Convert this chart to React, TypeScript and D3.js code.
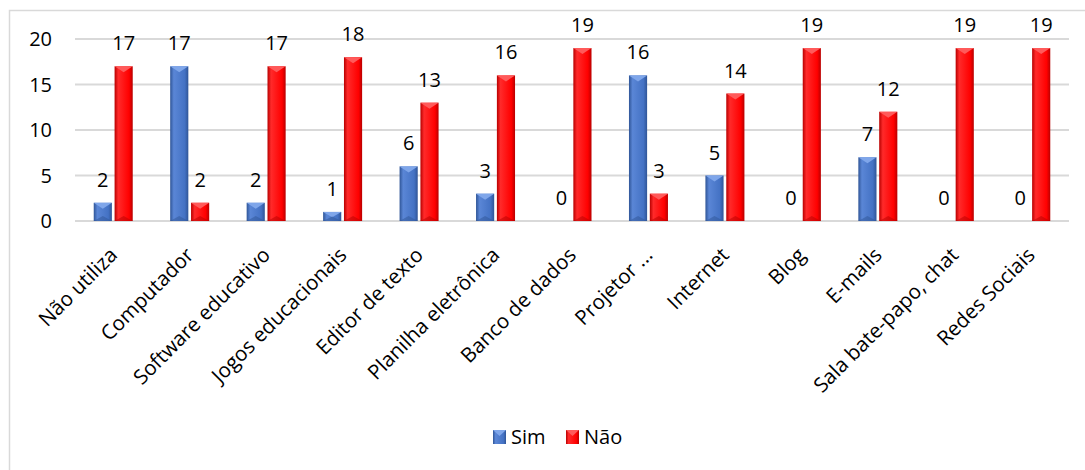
import * as d3 from 'd3';

const categories = [
  'Não utiliza',
  'Computador',
  'Software educativo',
  'Jogos educacionais',
  'Editor de texto',
  'Planilha eletrônica',
  'Banco de dados',
  'Projetor ...',
  'Internet',
  'Blog',
  'E-mails',
  'Sala bate-papo, chat',
  'Redes Sociais',
];
const seriesNames = ['Sim', 'Não'];
const simValues = [2, 17, 2, 1, 6, 3, 0, 16, 5, 0, 7, 0, 0];
const naoValues = [17, 2, 17, 18, 13, 16, 19, 3, 14, 19, 12, 19, 19];
const yTicks = [0, 5, 10, 15, 20];

const W = 1085;
const H = 470;
const FONT = '"Open Sans", Lato, sans-serif';
const FS = 20;

const palette: Record<string, { base: string; light: string; dark: string; top: string }> = {
  Sim: { base: '#4472C4', light: '#5A86D6', dark: '#2F5597', top: '#7FA6EA' },
  Não: { base: '#FF0000', light: '#FF2A2A', dark: '#B80000', top: '#FF5A5A' },
};

const gid = (s: string) => (s === 'Sim' ? 'grad-sim' : 'grad-nao');

const Bar = ({ x, y, w, h, s }: { x: number; y: number; w: number; h: number; s: string }) => {
  if (h <= 0) return null;
  const bev = Math.min(w / 2, h / 2, 5);
  const c = palette[s];
  return (
    <g>
      <rect x={x} y={y} width={w} height={h} fill={`url(#${gid(s)})`} />
      <polygon points={`${x},${y} ${x + w},${y} ${x + w / 2},${y + bev * 1.2}`} fill={c.top} />
      <polygon points={`${x},${y + h} ${x + w},${y + h} ${x + w / 2},${y + h - bev}`} fill={c.dark} opacity={0.5} />
    </g>
  );
};

const App = () => {
  const x0 = d3.scaleBand<string>().domain(categories).range([75, 1069]).paddingInner(0.49).paddingOuter(0.245);
  const x1 = d3.scaleBand<string>().domain(seriesNames).range([0, x0.bandwidth()]).paddingInner(0.13);
  const y = d3.scaleLinear().domain([0, 20]).range([221, 39]);

  const rows = categories.map((c, i) => ({ c, Sim: simValues[i], Não: naoValues[i] }));

  return (
    <svg width={W} height={H} style={{ position: 'absolute', left: 0, top: 0 }} fontFamily={FONT}>
      <defs>
        {seriesNames.map((s) => (
          <linearGradient key={s} id={gid(s)} x1="0" x2="1" y1="0" y2="0">
            <stop offset="0" stopColor={palette[s].dark} />
            <stop offset="0.2" stopColor={palette[s].light} />
            <stop offset="0.8" stopColor={palette[s].base} />
            <stop offset="1" stopColor={palette[s].dark} />
          </linearGradient>
        ))}
      </defs>
      <rect x={0} y={0} width={W} height={H} fill="#fff" />
      <rect x={9.5} y={10.5} width={W + 20} height={H + 20} fill="#fff" stroke="#d9d9d9" strokeWidth={1.5} />

      {yTicks.map((t) => (
        <g key={t}>
          <line x1={75} x2={1069} y1={y(t)} y2={y(t)} stroke="#d9d9d9" strokeWidth={2} />
          <text x={52} y={y(t)} dy="0.36em" textAnchor="end" fontSize={FS} fill="#000">
            {t}
          </text>
        </g>
      ))}

      {rows.map((r) => (
        <g key={r.c} transform={`translate(${x0(r.c)},0)`}>
          {seriesNames.map((s) => {
            const v = (r as any)[s] as number;
            const bx = x1(s)!;
            return (
              <g key={s}>
                <Bar x={bx} y={y(v)} w={x1.bandwidth()} h={y(0) - y(v)} s={s} />
                <text x={bx + x1.bandwidth() / 2} y={y(v) - 16} textAnchor="middle" fontSize={FS} fill="#000">
                  {v}
                </text>
              </g>
            );
          })}
        </g>
      ))}

      {categories.map((c) => {
        const cx = x0(c)! + x0.bandwidth() / 2 - 5;
        return (
          <text
            key={c}
            transform={`translate(${cx},${246}) rotate(-45)`}
            textAnchor="end"
            dy="0.71em"
            fontSize={20.5}
            fill="#000"
          >
            {c}
          </text>
        );
      })}

      <g transform="translate(493,430)">
        {seriesNames.map((s, i) => {
          const ox = i === 0 ? 0 : 73;
          return (
            <g key={s} transform={`translate(${ox},0)`}>
              <rect x={0} y={0} width={13} height={14} fill={`url(#${gid(s)})`} />
              <polygon points="0,0 13,0 6.5,6" fill={palette[s].top} />
              <text x={18} y={7} dy="0.36em" fontSize={FS} fill="#000">
                {s}
              </text>
            </g>
          );
        })}
      </g>
    </svg>
  );
};

export default App;
